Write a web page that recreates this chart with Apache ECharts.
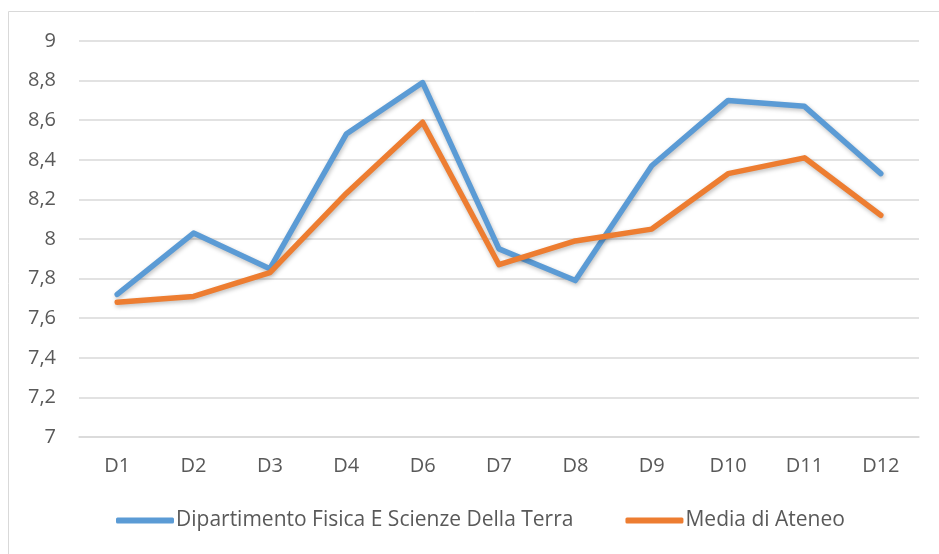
<!DOCTYPE html>
<html>
<head>
<meta charset="utf-8">
<script src="https://cdn.jsdelivr.net/npm/echarts@6/dist/echarts.min.js"></script>
<style>
  html, body { margin: 0; padding: 0; background: #fff; }
  #chart { width: 939px; height: 554px; }
</style>
</head>
<body>
<div id="chart"></div>
<script>
var categories = ['D1', 'D2', 'D3', 'D4', 'D6', 'D7', 'D8', 'D9', 'D10', 'D11', 'D12'];
var dipartimento = [7.72, 8.03, 7.85, 8.53, 8.79, 7.95, 7.79, 8.37, 8.70, 8.67, 8.33];
var mediaAteneo = [7.68, 7.71, 7.83, 8.23, 8.59, 7.87, 7.99, 8.05, 8.33, 8.41, 8.12];
var seriesNames = ['Dipartimento Fisica E Scienze Della Terra', 'Media di Ateneo'];

var chart = echarts.init(document.getElementById('chart'));
var font = '"Open Sans", sans-serif';

function lineSeries(name, data, color) {
    return {
        name: name,
        type: 'line',
        data: data,
        symbol: 'none',
        lineStyle: {
            color: color,
            width: 5.5,
            cap: 'round',
            join: 'round',
            shadowColor: 'rgba(0,0,0,0.25)',
            shadowBlur: 4,
            shadowOffsetX: 1,
            shadowOffsetY: 2
        },
        itemStyle: { color: color }
    };
}

var option = {
    animation: false,
    textStyle: { fontFamily: font },
    graphic: [{
        type: 'rect',
        shape: { x: 8.5, y: 11.5, width: 940, height: 560 },
        style: { fill: null, stroke: '#d9d9d9', lineWidth: 1 },
        silent: true
    }],
    grid: { left: 79, right: 20, top: 41, bottom: 117 },
    legend: {
        top: 510,
        left: 116,
        padding: 0,
        itemGap: 52,
        itemWidth: 58,
        itemHeight: 6,
        icon: 'roundRect',
        textStyle: { color: '#595959', fontSize: 21, fontFamily: font, padding: [0, 0, 0, -3] },
        data: seriesNames
    },
    xAxis: {
        type: 'category',
        data: categories,
        boundaryGap: true,
        axisLine: { show: true, lineStyle: { color: '#d9d9d9', width: 1.5 } },
        axisTick: { show: false },
        axisLabel: { color: '#595959', fontSize: 20, margin: 19, fontFamily: font }
    },
    yAxis: {
        type: 'value',
        min: 7,
        max: 9,
        interval: 0.2,
        axisLine: { show: false },
        axisTick: { show: false },
        splitLine: { lineStyle: { color: '#d9d9d9', width: 1.5 } },
        axisLabel: {
            color: '#595959',
            fontSize: 20,
            margin: 23,
            fontFamily: font,
            formatter: function (v) {
                return String(Math.round(v * 10) / 10).replace('.', ',');
            }
        }
    },
    series: [
        lineSeries(seriesNames[0], dipartimento, '#5b9bd5'),
        lineSeries(seriesNames[1], mediaAteneo, '#ed7d31')
    ]
};

chart.setOption(option);
window.addEventListener('resize', function () { chart.resize(); });
</script>
</body>
</html>
